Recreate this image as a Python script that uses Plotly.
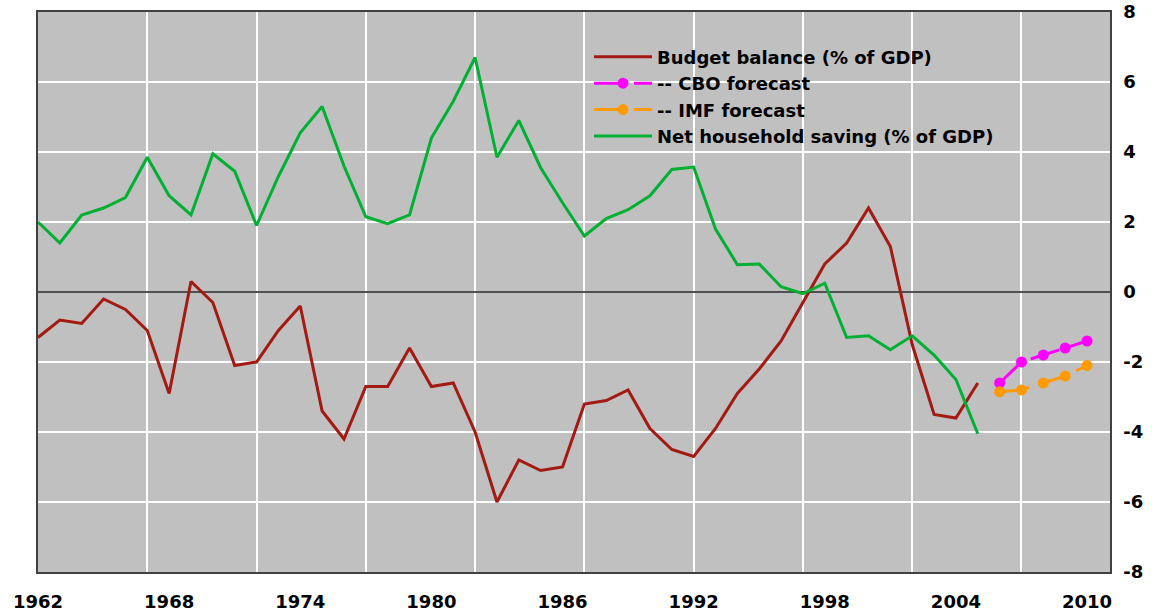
import plotly.graph_objects as go

years = list(range(1962, 2006))
budget_balance = [-1.3, -0.8, -0.9, -0.2, -0.5, -1.1, -2.9, 0.3, -0.3, -2.1,
                  -2.0, -1.1, -0.4, -3.4, -4.2, -2.7, -2.7, -1.6, -2.7, -2.6,
                  -4.0, -6.0, -4.8, -5.1, -5.0, -3.2, -3.1, -2.8, -3.9, -4.5,
                  -4.7, -3.9, -2.9, -2.2, -1.4, -0.3, 0.8, 1.4, 2.4, 1.3,
                  -1.5, -3.5, -3.6, -2.6]
net_saving = [2.0, 1.4, 2.2, 2.4, 2.7, 3.85, 2.75, 2.2, 3.95, 3.45,
              1.9, 3.3, 4.55, 5.3, 3.6, 2.15, 1.95, 2.2, 4.4, 5.45,
              6.7, 3.85, 4.9, 3.55, 2.55, 1.6, 2.1, 2.35, 2.75, 3.5,
              3.57, 1.8, 0.78, 0.8, 0.15, -0.05, 0.25, -1.3, -1.25, -1.65,
              -1.25, -1.8, -2.5, -4.05]
forecast_years = [2006, 2007, 2008, 2009, 2010]
cbo_forecast = [-2.6, -2.0, -1.8, -1.6, -1.4]
imf_forecast = [-2.85, -2.8, -2.6, -2.4, -2.1]

x_ticks = [1962, 1968, 1974, 1980, 1986, 1992, 1998, 2004, 2010]
x_grid = [1967, 1972, 1977, 1982, 1987, 1992, 1997, 2002, 2007]
y_ticks = [-8, -6, -4, -2, 0, 2, 4, 6, 8]

FONT = "DejaVu Sans"
fig = go.Figure()
fig.add_trace(go.Scatter(x=years, y=budget_balance, mode="lines",
                         name="Budget balance (% of GDP)",
                         line=dict(color="#A31A12", width=3)))
fig.add_trace(go.Scatter(x=forecast_years, y=cbo_forecast, mode="lines+markers",
                         name="-- CBO forecast",
                         line=dict(color="#FF00FF", width=3, dash="30px,10px"),
                         marker=dict(color="#FF00FF", size=11)))
fig.add_trace(go.Scatter(x=forecast_years, y=imf_forecast, mode="lines+markers",
                         name="-- IMF forecast",
                         line=dict(color="#FF9A00", width=3, dash="30px,10px"),
                         marker=dict(color="#FF9A00", size=11)))
fig.add_trace(go.Scatter(x=years, y=net_saving, mode="lines",
                         name="Net household saving (% of GDP)",
                         line=dict(color="#00B032", width=3)))

# legend background patch covering the gridlines (between grid and traces)
fig.add_shape(type="rect", xref="paper", yref="paper",
              x0=0.4888, x1=0.972, y0=0.771, y1=0.941,
              fillcolor="#C0C0C0", line=dict(width=0), layer="between")

fig.update_layout(
    width=1152, height=612,
    margin=dict(l=38, r=42, t=12, b=40),
    paper_bgcolor="white",
    plot_bgcolor="#C0C0C0",
    font=dict(family=FONT, size=18, color="black", weight="bold"),
    showlegend=True,
    legend=dict(x=0.514, y=0.9526, xanchor="left", yanchor="top",
                bgcolor="rgba(0,0,0,0)", borderwidth=0,
                font=dict(family=FONT, size=18, color="black", weight="bold"),
                itemwidth=58, tracegroupgap=0),
    xaxis=dict(range=[1962, 2011.05], tickmode="array", tickvals=x_ticks,
               ticktext=[str(v) for v in x_ticks], showgrid=False,
               ticks="", ticklabelstandoff=13, automargin=False,
               showline=True, linecolor="#404040", linewidth=1.5, mirror=True,
               zeroline=False,
               minor=dict(tickmode="array", tickvals=x_grid, showgrid=True,
                          gridcolor="white", gridwidth=1.5, ticks="")),
    yaxis=dict(range=[-8, 8], side="right", tickmode="array", tickvals=y_ticks,
               ticktext=[str(v) for v in y_ticks], showgrid=True,
               gridcolor="white", gridwidth=1.5, ticks="", ticklabelstandoff=8,
               automargin=False,
               showline=True, linecolor="#404040", linewidth=1.5, mirror=True,
               zeroline=True, zerolinecolor="#505050", zerolinewidth=2),
)

fig.write_html("out.html", config={"displayModeBar": False},
               post_script="document.body.style.margin='0px';document.body.style.padding='0px';")
